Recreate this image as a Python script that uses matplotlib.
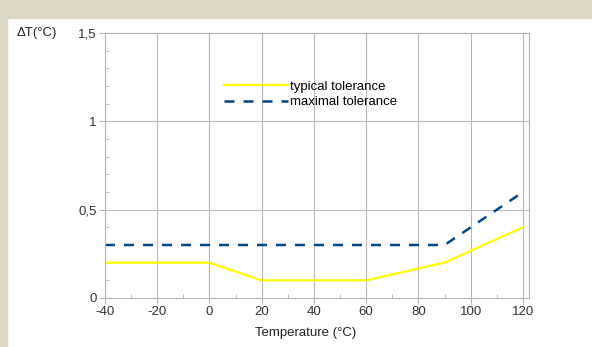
import numpy as np
import matplotlib
matplotlib.use("Agg")
import matplotlib.pyplot as plt
from matplotlib.patches import Rectangle
from matplotlib.ticker import FuncFormatter, MultipleLocator

plt.rcParams['font.family'] = ['Liberation Sans', 'DejaVu Sans']
plt.rcParams['axes.unicode_minus'] = False

# data
typ_t = [-40, 0, 20, 60, 90, 120]
typ_dt = [0.2, 0.2, 0.1, 0.1, 0.2, 0.4]
max_t = [-40, 90, 120]
max_dt = [0.3, 0.3, 0.6]

fig = plt.figure(figsize=(5.92, 3.47), dpi=100)
# beige frame strips
fig.patches.append(Rectangle((0, 1 - 18/347), 1, 18/347, transform=fig.transFigure,
                             color='#ddd9c4', zorder=0))
fig.patches.append(Rectangle((0, 0), 7/592, 1, transform=fig.transFigure,
                             color='#ddd9c4', zorder=0))

ax = fig.add_axes([105/592, 49/347, 424/592, 265/347])
ax.plot(typ_t, typ_dt, color='#ffff00', lw=1.6, label='typical tolerance')
ax.plot(max_t, max_dt, color='#004586', lw=1.8, dashes=(4.0, 3.6), label='maximal tolerance')

ax.set_xlim(-40, 122.3)
ax.set_ylim(0, 1.5)
ax.xaxis.set_major_locator(MultipleLocator(20))
ax.xaxis.set_minor_locator(MultipleLocator(10))
ax.yaxis.set_major_locator(MultipleLocator(0.5))
ax.yaxis.set_minor_locator(MultipleLocator(0.1))
ax.set_xticks(np.arange(-40, 121, 20))
ax.yaxis.set_major_formatter(FuncFormatter(lambda v, p: ('%g' % v).replace('.', ',')))

ax.grid(True, which='major', color='#b8b8b8', lw=0.8)
for s in ax.spines.values():
    s.set_color('#b3b3b3')
    s.set_linewidth(0.8)
ax.tick_params(which='major', direction='out', length=4, color='#b3b3b3',
               labelsize=9.5, labelcolor='#333333', pad=2)
ax.tick_params(which='minor', direction='in', length=3, color='#b3b3b3')

ax.set_xlabel('Temperature (°C)', fontsize=9.5, color='#222222')
ax.xaxis.set_label_coords(0.472, -0.11)
fig.text(17/592, 1 - 33/347, 'ΔT(°C)', fontsize=9.5, color='#222222', va='center', ha='left')

ax.legend(loc='upper left', bbox_to_anchor=(0.268, 0.84), frameon=False, fontsize=9.5,
          handlelength=4.85, handletextpad=0.15, labelspacing=0.25, borderaxespad=0)

fig.savefig('out.png', dpi=100)
